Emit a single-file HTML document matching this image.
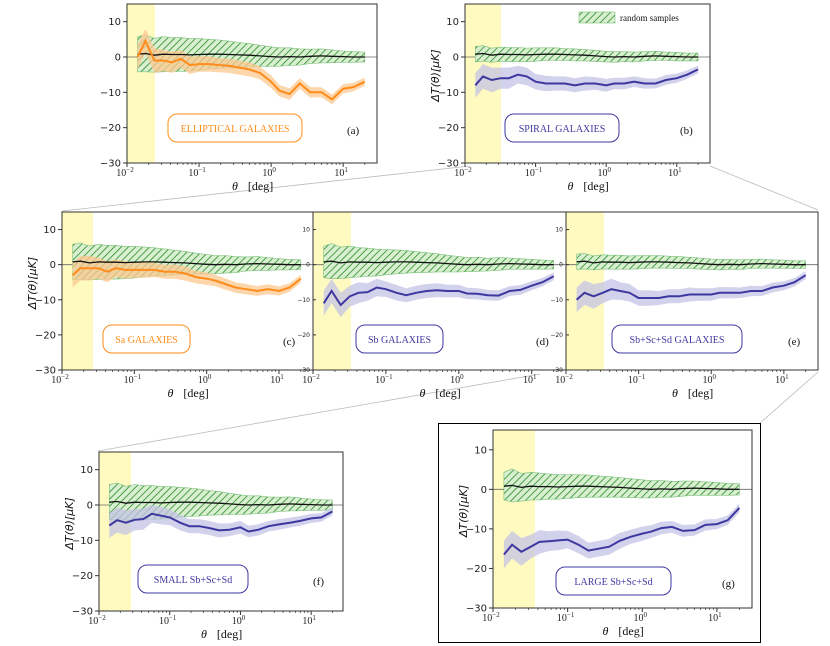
<!DOCTYPE html>
<html><head><meta charset="utf-8"><style>
html,body{margin:0;padding:0;background:#fff;}
svg{display:block;}
text{font-family:"DejaVu Sans","Liberation Sans",sans-serif;}
.serif{font-family:"Liberation Serif",serif;}
</style></head><body>
<svg id="fig" width="830" height="646" viewBox="0 0 830 646" xmlns="http://www.w3.org/2000/svg">
<defs>
<pattern id="hatch" patternUnits="userSpaceOnUse" width="5" height="5" patternTransform="rotate(45)">
<rect width="5" height="5" fill="#d8efd0"/>
<line x1="0" y1="0" x2="0" y2="5" stroke="#2a8a2a" stroke-width="1.6"/>
</pattern>
</defs>
<g stroke="#bbb" stroke-width="0.8">
<line x1="470" y1="166" x2="62" y2="211"/>
<line x1="710" y1="166" x2="818" y2="210"/>
<line x1="540" y1="374" x2="98" y2="451"/>
<line x1="818" y1="372" x2="760" y2="423"/>
</g>
<rect x="438.5" y="423.5" width="322" height="219" fill="none" stroke="#000" stroke-width="1"/>
</svg>
<script>
const theta=[0.014,0.018,0.024,0.032,0.042,0.056,0.075,0.1,0.14,0.19,0.26,0.36,0.5,0.7,1.0,1.3,1.8,2.5,3.5,5,7,10,14,20];
const seriesA=[0,4.5,-1,-1,-1.5,-0.5,-2.3,-2,-2,-2.3,-2.5,-3,-3.5,-4.5,-7,-9.5,-10.5,-7.5,-10,-10,-12,-9,-8.5,-7];
const seriesB=[-8,-5.5,-6.5,-6,-6,-5,-5.5,-7,-7.5,-7.5,-7.5,-8,-7.5,-7.5,-8,-7.5,-7.5,-7,-7.5,-7.5,-6.5,-6,-5,-3.5];
const seriesC=[-3,-1,-1,-1,-2,-1,-1.5,-1.5,-1.5,-1.5,-2,-2,-2.5,-3.5,-4,-4.5,-5.5,-6.5,-7,-7.5,-7,-7.5,-6.5,-4];
const seriesD=[-11,-7.5,-11.5,-9,-8,-7.8,-6.5,-7,-8,-8.7,-8,-7.5,-7.3,-7.5,-7.5,-8.2,-8.3,-8.7,-8.8,-7.5,-7.2,-6,-5,-3.3];
const seriesE=[-10,-8,-9,-8,-7,-7.5,-8,-9.5,-9.5,-9.5,-9,-9,-8.5,-8.5,-8.5,-8,-8,-8,-7.5,-7.5,-6.5,-6,-5,-3];
const seriesF=[-5.8,-4.3,-5,-4.2,-4,-2.5,-3,-3.5,-5,-6,-6,-6.5,-7.2,-7,-6.3,-7.5,-7,-6,-5.5,-5,-4.5,-3.8,-3.5,-1.8];
const seriesG=[-16.5,-14,-15.8,-14.5,-13.3,-13.1,-12.9,-12.7,-14,-15.5,-15,-14.5,-13,-12,-11.2,-10.7,-9.8,-9.5,-10.5,-10.3,-9,-8.8,-7.8,-4.7];
const errMain=[3.5,3.5,3.5,3,3,2.5,2.5,2.2,2.2,2,2,2,2,1.8,1.8,1.6,1.6,1.5,1.5,1.4,1.4,1.3,1.2,1.1];
const randMean=[0.8,1,0.5,0.8,0.7,0.7,0.6,0.7,0.8,0.8,0.7,0.6,0.5,0.3,0.1,0,0.1,0,0.2,0.3,0.2,0.1,0,0];
const randHalfA=[5,5.2,4.8,5,4.8,4.8,4.6,4.5,4.2,4,3.8,3.5,3.3,3,2.8,2.6,2.5,2.3,2,2,1.8,1.6,1.5,1.4];
const randHalfB=[2.2,2.2,2,2,2,2,1.9,1.9,1.8,1.8,1.7,1.7,1.6,1.6,1.5,1.5,1.4,1.4,1.3,1.3,1.2,1.2,1.1,1.1];
const randHalfD=[4.5,5,4.5,4.5,4.2,4,3.8,3.6,3.4,3.2,3,2.8,2.6,2.4,2.2,2,2,1.8,1.8,1.6,1.5,1.4,1.3,1.2];
const randHalfG=[3.5,4.2,3.5,3.5,3.4,3.2,3.1,3,2.9,2.8,2.7,2.6,2.5,2.4,2.3,2.2,2.1,2,1.9,1.8,1.7,1.6,1.5,1.4];
const panels=[
 {id:'a',x0:127,x1:377,y0:4,y1:163,lmax:1.47,band:155,s:seriesA,col:'#ff8c1a',fill:'#fcc890',rh:randHalfA,label:'ELLIPTICAL GALAXIES',bx:168,by:114,bw:134,ylab:false,small:false},
 {id:'b',x0:465,x1:710,y0:4,y1:163,lmax:1.47,band:501,s:seriesB,col:'#3d37a0',fill:'#c4c3e6',rh:randHalfB,label:'SPIRAL GALAXIES',bx:505,by:114,bw:114,ylab:true,small:false},
 {id:'c',x0:62,x1:313,y0:212,y1:370,lmax:1.47,band:93,s:seriesC,col:'#ff8c1a',fill:'#fcc890',rh:randHalfA,label:'Sa GALAXIES',bx:103,by:325,bw:87,ylab:true,small:false},
 {id:'d',x0:313,x1:566,y0:212,y1:370,lmax:1.47,band:351,s:seriesD,col:'#3d37a0',fill:'#c4c3e6',rh:randHalfD,label:'Sb GALAXIES',bx:356,by:325,bw:87,ylab:false,small:true},
 {id:'e',x0:566,x1:818,y0:212,y1:370,lmax:1.47,band:604,s:seriesE,col:'#3d37a0',fill:'#c4c3e6',rh:randHalfB,label:'Sb+Sc+Sd GALAXIES',bx:612,by:325,bw:130,ylab:false,small:true},
 {id:'f',x0:99,x1:343,y0:452,y1:611,lmax:1.45,band:131,s:seriesF,col:'#3d37a0',fill:'#c4c3e6',rh:randHalfA,label:'SMALL Sb+Sc+Sd',bx:138,by:565,bw:110,ylab:true,small:false},
 {id:'g',x0:493,x1:752,y0:430,y1:608,lmax:1.47,band:535,s:seriesG,col:'#3d37a0',fill:'#c4c3e6',rh:randHalfG,label:'LARGE Sb+Sc+Sd',bx:556,by:567,bw:115,ylab:true,small:false}
];
const NS='http://www.w3.org/2000/svg';
const fig=document.getElementById('fig');
function mk(tag,attrs,parent){const e=document.createElementNS(NS,tag);for(const k in attrs)e.setAttribute(k,attrs[k]);(parent||fig).appendChild(e);return e;}
function poly(pts){return pts.map(p=>p[0].toFixed(1)+','+p[1].toFixed(1)).join(' ');}
panels.forEach(p=>{
 const g=mk('g',{});
 
 
 const X=t=>p.x0+(Math.log10(t)+2)/(p.lmax+2)*(p.x1-p.x0);
 const Y=v=>p.y1-(v+30)/45*(p.y1-p.y0);
 const band=mk('rect',{x:p.x0,y:p.y0,width:p.band-p.x0,height:p.y1-p.y0,fill:'#fffbc0'},g);
 
 
 const zl=mk('line',{x1:p.x0,x2:p.x1,y1:Y(0),y2:Y(0),stroke:'#666','stroke-width':0.8},g);
 
 
 const up=theta.map((t,i)=>[X(t),Y(randMean[i]+p.rh[i])]);
 const dn=theta.map((t,i)=>[X(t),Y(randMean[i]-p.rh[i])]).reverse();
 const rb=mk('polygon',{points:poly(up.concat(dn)),fill:'url(#hatch)',stroke:'#7cc07c','stroke-width':0.6},g);
 
 
 const eu=theta.map((t,i)=>[X(t),Y(p.s[i]+errMain[i])]);
 const ed=theta.map((t,i)=>[X(t),Y(p.s[i]-errMain[i])]).reverse();
 const eb=mk('polygon',{points:poly(eu.concat(ed)),fill:p.fill,'fill-opacity':0.75},g);
 
 
 const rl=mk('polyline',{points:poly(theta.map((t,i)=>[X(t),Y(randMean[i])])),fill:'none',stroke:'#111','stroke-width':1.3},g);
 
 
 const sl=mk('polyline',{points:poly(theta.map((t,i)=>[X(t),Y(p.s[i])])),fill:'none',stroke:p.col,'stroke-width':2},g);
 
 
 const fr=mk('rect',{x:p.x0,y:p.y0,width:p.x1-p.x0,height:p.y1-p.y0,fill:'none',stroke:'#333','stroke-width':1},g);
 
 
 [10,0,-10,-20,-30].forEach(v=>{
  mk('line',{x1:p.x0-(p.small?0:4),x2:p.x0+(p.small?3:0),y1:Y(v),y2:Y(v),stroke:'#333'},g);
  const t=mk('text',{x:p.small?p.x0-3+0:p.x0-6,y:Y(v)+(p.small?2:3.5),'text-anchor':'end','font-size':p.small?6:10,fill:'#222'},g);
  if(p.small){t.setAttribute('x',p.x0-3);}
  t.textContent=(v<0?'\u2212':'')+Math.abs(v);
  
  
 });
 [-2,-1,0,1].forEach(e=>{
  const x=X(Math.pow(10,e));
  mk('line',{x1:x,x2:x,y1:p.y1,y2:p.y1+4,stroke:'#333'},g);
  for(let k=2;k<10;k++){const xm=X(k*Math.pow(10,e));if(xm<p.x1)mk('line',{x1:xm,x2:xm,y1:p.y1,y2:p.y1+2,stroke:'#333','stroke-width':0.7},g);}
  const t=mk('text',{x:x-2,y:p.y1+13,'text-anchor':'middle','font-size':10,fill:'#222',class:'serif'},g);
  t.textContent='10';
  
  
  const s=mk('tspan',{'font-size':7,dy:-4},t);
  s.textContent=e<0?'\u2212'+(-e):String(e);
 });
 const xl=mk('text',{x:(p.x0+p.x1)/2-20,y:p.y1+27,'font-size':12,fill:'#111',class:'serif'},g);
 
 
 const th=mk('tspan',{'font-style':'italic'},xl);th.textContent='\u03b8';
 const dg=mk('tspan',{dx:10},xl);dg.textContent='[deg]';
 if(p.ylab){
  const yl=mk('text',{x:0,y:0,'font-size':11,fill:'#111','text-anchor':'middle','font-style':'italic',transform:'translate('+(p.x0-26)+','+((p.y0+p.y1)/2-8)+') rotate(-90)'},g);
  yl.textContent='\u0394T(\u03b8)[\u03bcK]';
  
  
 }
 const lb=mk('rect',{x:p.bx,y:p.by,width:p.bw,height:28,rx:9,fill:'#fff',stroke:p.col,'stroke-width':1},g);
 
 
 const lt=mk('text',{x:p.bx+p.bw/2,y:p.by+18,'text-anchor':'middle','font-size':10,fill:p.col,class:'serif'},g);
 lt.textContent=p.label;
 
 
 const pl=mk('text',{x:p.x1-30,y:p.by+20,'font-size':11,fill:'#111',class:'serif'},g);
 pl.textContent='('+p.id+')';
 
 
});
const lg=mk('g',{});


mk('rect',{x:579,y:12,width:36,height:11,fill:'url(#hatch)',stroke:'#7cc07c','stroke-width':0.6},lg);
const lgt=mk('text',{x:620,y:21,'font-size':9,fill:'#111',class:'serif'},lg);
lgt.textContent='random samples';


</script>
</body></html>
